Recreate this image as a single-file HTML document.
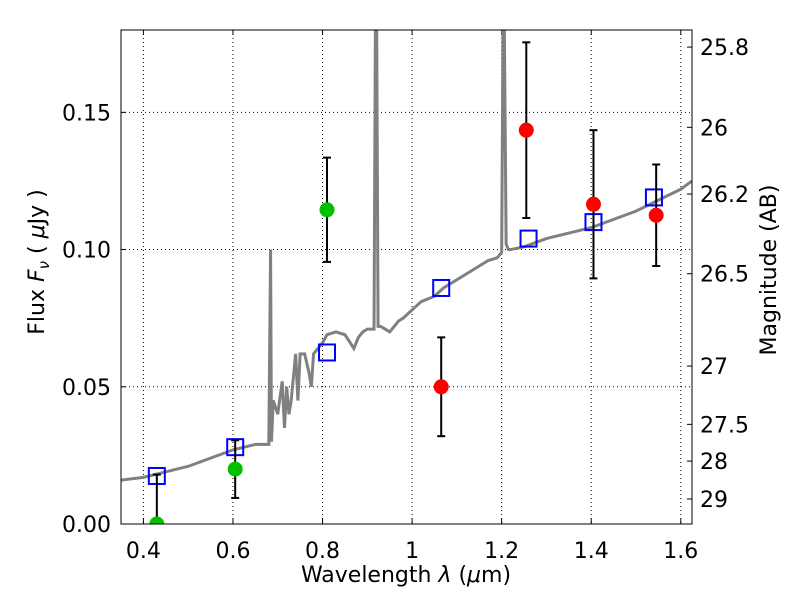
<!DOCTYPE html>
<html><head><meta charset="utf-8"><style>
body{margin:0;background:#fff;width:800px;height:600px;overflow:hidden}
text{font-family:"DejaVu Sans","Liberation Sans",sans-serif}
</style></head><body>
<svg id="chart" width="800" height="600" xmlns="http://www.w3.org/2000/svg"></svg>
<script>
const specLam=[0.35,0.40,0.45,0.50,0.55,0.60,0.65,0.68,0.684,0.686,0.69,0.70,0.71,0.715,0.72,0.725,0.73,0.74,0.745,0.75,0.76,0.77,0.775,0.78,0.79,0.80,0.81,0.83,0.85,0.87,0.88,0.89,0.90,0.915,0.918,0.921,0.924,0.93,0.95,0.97,0.98,1.0,1.02,1.05,1.07,1.1,1.13,1.15,1.17,1.19,1.2,1.203,1.206,1.21,1.215,1.22,1.25,1.3,1.35,1.4,1.45,1.5,1.55,1.6,1.625];
const specFlux=[0.016,0.017,0.019,0.021,0.024,0.027,0.029,0.029,0.10,0.03,0.045,0.04,0.052,0.035,0.05,0.04,0.045,0.062,0.045,0.062,0.062,0.055,0.050,0.062,0.064,0.066,0.069,0.070,0.069,0.064,0.068,0.070,0.071,0.071,0.18,0.18,0.072,0.072,0.070,0.074,0.075,0.078,0.081,0.083,0.086,0.089,0.092,0.094,0.096,0.097,0.099,0.18,0.18,0.102,0.10,0.10,0.101,0.104,0.106,0.108,0.111,0.114,0.118,0.122,0.125];
const greenLam=[0.43,0.605,0.81];
const greenFlux=[0.0,0.020,0.1145];
const greenErr=[0.018,0.0105,0.019];
const redLam=[1.065,1.255,1.405,1.545];
const redFlux=[0.050,0.1435,0.1165,0.1125];
const redErr=[0.018,0.032,0.027,0.0185];
const modelLam=[0.43,0.605,0.81,1.065,1.26,1.405,1.54];
const modelFlux=[0.0175,0.028,0.0625,0.086,0.104,0.110,0.119];
const xTicks=[0.4,0.6,0.8,1.0,1.2,1.4,1.6];
const xTickLabels=["0.4","0.6","0.8","1","1.2","1.4","1.6"];
const yTicks=[0,0.05,0.10,0.15];
const yTickLabels=["0.00","0.05","0.10","0.15"];
const magTicks=[25.8,26,26.2,26.5,27,27.5,28,29];

const L=121,R=692,T=30,B=524,xmin=0.35,xmax=1.625,ymin=0,ymax=0.18;
const X=v=>L+(v-xmin)/(xmax-xmin)*(R-L);
const Y=v=>B-(v-ymin)/(ymax-ymin)*(B-T);
const svg=document.getElementById('chart');const NS='http://www.w3.org/2000/svg';
function mk(tag,attrs,parent){const e=document.createElementNS(NS,tag);for(const k in attrs)e.setAttribute(k,attrs[k]);(parent||svg).appendChild(e);return e;}
const clip=mk('clipPath',{id:'pc'});mk('rect',{x:L,y:T,width:R-L,height:B-T},clip);
xTicks.forEach((v,i)=>{
 const g=mk('line',{x1:X(v),x2:X(v),y1:T,y2:B,stroke:'#000','stroke-width':1,'stroke-dasharray':'1,3'});
 
 mk('line',{x1:X(v),x2:X(v),y1:B,y2:B-5,stroke:'#000'});mk('line',{x1:X(v),x2:X(v),y1:T,y2:T+5,stroke:'#000'});
 const t=mk('text',{x:X(v),y:B+34,'font-size':22,'text-anchor':'middle'});t.textContent=xTickLabels[i];
 
});
yTicks.forEach((v,i)=>{
 const g=mk('line',{x1:L,x2:R,y1:Y(v),y2:Y(v),stroke:'#000','stroke-width':1,'stroke-dasharray':'1,3'});
 
 mk('line',{x1:L,x2:L+5,y1:Y(v),y2:Y(v),stroke:'#000'});
 const t=mk('text',{x:L-10,y:Y(v)+8,'font-size':22,'text-anchor':'end'});t.textContent=yTickLabels[i];
 
});
magTicks.forEach(m=>{
 const f=Math.pow(10,(23.9-m)/2.5);const y=Y(f);
 mk('line',{x1:R,x2:R-5,y1:y,y2:y,stroke:'#000'});
 const t=mk('text',{x:R+8,y:y+8,'font-size':22});t.textContent=String(m);
 
});
const sp=mk('polyline',{points:specLam.map((l,i)=>X(l)+','+Y(specFlux[i])).join(' '),fill:'none',stroke:'#808080','stroke-width':3,'clip-path':'url(#pc)'});

modelLam.forEach((l,i)=>{
 const s=mk('rect',{x:X(l)-8,y:Y(modelFlux[i])-8,width:16,height:16,fill:'none',stroke:'#0000ff','stroke-width':2});
 
});
function pts(lams,fl,er,col,name){lams.forEach((l,i)=>{
 const x=X(l),y1=Y(fl[i]-er[i]),y2=Y(fl[i]+er[i]);
 const eb=mk('line',{x1:x,x2:x,y1:Math.min(y1,B),y2:y2,stroke:'#000','stroke-width':2,'clip-path':'url(#pc)'});
 
 mk('line',{x1:x-4,x2:x+4,y1:y2,y2:y2,stroke:'#000','stroke-width':2});
 if(y1<B)mk('line',{x1:x-4,x2:x+4,y1:y1,y2:y1,stroke:'#000','stroke-width':2});
 const c=mk('circle',{cx:x,cy:Y(fl[i]),r:7.5,fill:col,'clip-path':'url(#pc)'});
 
});}
pts(greenLam,greenFlux,greenErr,'#00c000','green-photometry-point');
pts(redLam,redFlux,redErr,'#ff0000','red-photometry-point');
const fr=mk('rect',{x:L,y:T,width:R-L,height:B-T,fill:'none',stroke:'#000','stroke-width':1});

const xl=mk('text',{x:406,y:582,'font-size':22,'text-anchor':'middle'});xl.innerHTML='Wavelength  <tspan font-style="italic">λ</tspan> (<tspan font-style="italic">μ</tspan>m)';

const yl=mk('text',{x:44,y:262,'font-size':22,'text-anchor':'middle',transform:'rotate(-90 44 262)'});yl.innerHTML='Flux  <tspan font-style="italic">F</tspan><tspan font-style="italic" font-size="15" dy="5">ν</tspan><tspan dy="-5">  ( </tspan><tspan font-style="italic">μ</tspan>Jy )';

const ml=mk('text',{x:776,y:270,'font-size':22,'text-anchor':'middle',transform:'rotate(-90 776 270)'});ml.textContent='Magnitude (AB)';

</script>
</body></html>
